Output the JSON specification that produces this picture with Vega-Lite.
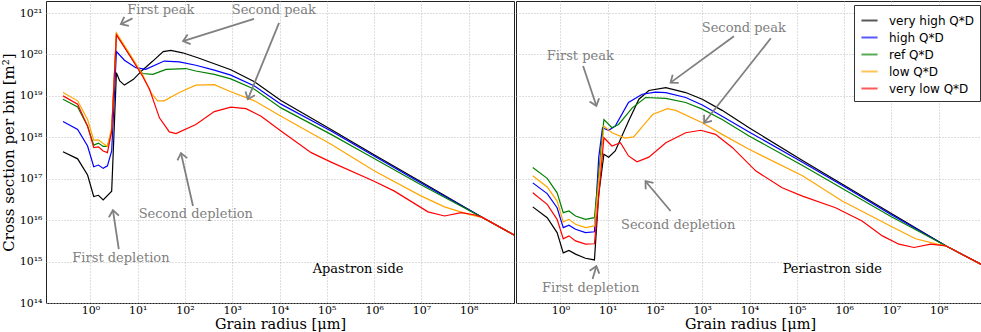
{
  "$schema": "https://vega.github.io/schema/vega-lite/v6.json",
  "padding": 0,
  "spacing": 0,
  "background": "white",
  "config": {
    "font": "DejaVu Serif",
    "view": {"stroke": "#222222", "strokeWidth": 1},
    "axis": {"grid": true, "gridColor": "#b5b5b5", "gridDash": [1, 2], "gridWidth": 0.9, "domain": false, "ticks": false, "labelFont": "DejaVu Serif", "labelFontSize": 11, "labelColor": "#000000", "titleFont": "DejaVu Serif", "titleFontSize": 15, "titleFontWeight": "normal", "titleColor": "#000000"}
  },
  "resolve": {"legend": {"color": "independent"}},
  "datasets": {
    "curvesA": [
      {"m": "very high Q*D", "x": 0.263, "y": 4.467e17}, {"m": "very high Q*D", "x": 0.537, "y": 3.02e17}, {"m": "very high Q*D", "x": 0.871, "y": 1.23e17}, {"m": "very high Q*D", "x": 1.175, "y": 3.715e16}, {"m": "very high Q*D", "x": 1.479, "y": 3.981e16}, {"m": "very high Q*D", "x": 1.862, "y": 3.09e16}, {"m": "very high Q*D", "x": 2.818, "y": 5.012e16}, {"m": "very high Q*D", "x": 3.548, "y": 3.631e19}, {"m": "very high Q*D", "x": 4.169, "y": 2.291e19}, {"m": "very high Q*D", "x": 5.248, "y": 1.82e19}, {"m": "very high Q*D", "x": 8.128, "y": 2.512e19}, {"m": "very high Q*D", "x": 12.59, "y": 4.169e19}, {"m": "very high Q*D", "x": 20.89, "y": 6.918e19}, {"m": "very high Q*D", "x": 34.67, "y": 1.175e20}, {"m": "very high Q*D", "x": 50.12, "y": 1.259e20}, {"m": "very high Q*D", "x": 89.13, "y": 1.096e20}, {"m": "very high Q*D", "x": 186.2, "y": 8.318e19}, {"m": "very high Q*D", "x": 933.3, "y": 4.266e19}, {"m": "very high Q*D", "x": 2951, "y": 2.188e19}, {"m": "very high Q*D", "x": 10720, "y": 7.762e18}, {"m": "very high Q*D", "x": 123000, "y": 1.549e18}, {"m": "very high Q*D", "x": 1e6, "y": 3.802e17}, {"m": "very high Q*D", "x": 1e7, "y": 8.318e16}, {"m": "very high Q*D", "x": 2e8, "y": 1.148e16}, {"m": "very high Q*D", "x": 9.12e8, "y": 4.365e15},
      {"m": "high Q*D", "x": 0.263, "y": 2.399e18}, {"m": "high Q*D", "x": 0.537, "y": 1.549e18}, {"m": "high Q*D", "x": 0.871, "y": 6.166e17}, {"m": "high Q*D", "x": 1.175, "y": 1.95e17}, {"m": "high Q*D", "x": 1.479, "y": 2.138e17}, {"m": "high Q*D", "x": 1.862, "y": 1.778e17}, {"m": "high Q*D", "x": 2.291, "y": 2.042e17}, {"m": "high Q*D", "x": 2.818, "y": 4.677e17}, {"m": "high Q*D", "x": 3.548, "y": 1.175e20}, {"m": "high Q*D", "x": 5.248, "y": 7.244e19}, {"m": "high Q*D", "x": 9.12, "y": 4.786e19}, {"m": "high Q*D", "x": 14.79, "y": 4.365e19}, {"m": "high Q*D", "x": 36.31, "y": 6.918e19}, {"m": "high Q*D", "x": 75.86, "y": 6.607e19}, {"m": "high Q*D", "x": 169.8, "y": 5.495e19}, {"m": "high Q*D", "x": 416.9, "y": 4.169e19}, {"m": "high Q*D", "x": 933.3, "y": 3.162e19}, {"m": "high Q*D", "x": 2951, "y": 1.738e19}, {"m": "high Q*D", "x": 10720, "y": 6.31e18}, {"m": "high Q*D", "x": 123000, "y": 1.413e18}, {"m": "high Q*D", "x": 1e6, "y": 3.548e17}, {"m": "high Q*D", "x": 1e7, "y": 7.762e16}, {"m": "high Q*D", "x": 2e8, "y": 1.148e16}, {"m": "high Q*D", "x": 9.12e8, "y": 4.365e15},
      {"m": "ref Q*D", "x": 0.263, "y": 8.318e18}, {"m": "ref Q*D", "x": 0.537, "y": 5.37e18}, {"m": "ref Q*D", "x": 0.871, "y": 1.862e18}, {"m": "ref Q*D", "x": 1.175, "y": 6.457e17}, {"m": "ref Q*D", "x": 1.479, "y": 7.244e17}, {"m": "ref Q*D", "x": 1.862, "y": 6.026e17}, {"m": "ref Q*D", "x": 2.291, "y": 6.026e17}, {"m": "ref Q*D", "x": 2.818, "y": 1.413e18}, {"m": "ref Q*D", "x": 3.548, "y": 3.09e20}, {"m": "ref Q*D", "x": 10, "y": 4.786e19}, {"m": "ref Q*D", "x": 12.59, "y": 3.467e19}, {"m": "ref Q*D", "x": 20.89, "y": 3.311e19}, {"m": "ref Q*D", "x": 39.81, "y": 4.365e19}, {"m": "ref Q*D", "x": 104.7, "y": 4.571e19}, {"m": "ref Q*D", "x": 169.8, "y": 3.981e19}, {"m": "ref Q*D", "x": 416.9, "y": 3.311e19}, {"m": "ref Q*D", "x": 933.3, "y": 2.57e19}, {"m": "ref Q*D", "x": 2951, "y": 1.445e19}, {"m": "ref Q*D", "x": 10720, "y": 5.129e18}, {"m": "ref Q*D", "x": 123000, "y": 1.175e18}, {"m": "ref Q*D", "x": 1e6, "y": 3.09e17}, {"m": "ref Q*D", "x": 1e7, "y": 7.079e16}, {"m": "ref Q*D", "x": 2e8, "y": 1.148e16}, {"m": "ref Q*D", "x": 9.12e8, "y": 4.365e15},
      {"m": "low Q*D", "x": 0.263, "y": 1.202e19}, {"m": "low Q*D", "x": 0.537, "y": 7.586e18}, {"m": "low Q*D", "x": 0.871, "y": 2.692e18}, {"m": "low Q*D", "x": 1.175, "y": 8.511e17}, {"m": "low Q*D", "x": 1.479, "y": 8.71e17}, {"m": "low Q*D", "x": 1.862, "y": 7.079e17}, {"m": "low Q*D", "x": 2.291, "y": 6.026e17}, {"m": "low Q*D", "x": 2.818, "y": 1.698e18}, {"m": "low Q*D", "x": 3.548, "y": 3.311e20}, {"m": "low Q*D", "x": 7.244, "y": 9.12e19}, {"m": "low Q*D", "x": 12.59, "y": 3.311e19}, {"m": "low Q*D", "x": 19.05, "y": 1.202e19}, {"m": "low Q*D", "x": 26.3, "y": 7.586e18}, {"m": "low Q*D", "x": 36.31, "y": 7.586e18}, {"m": "low Q*D", "x": 75.86, "y": 1.202e19}, {"m": "low Q*D", "x": 169.8, "y": 1.82e19}, {"m": "low Q*D", "x": 416.9, "y": 1.862e19}, {"m": "low Q*D", "x": 933.3, "y": 1.259e19}, {"m": "low Q*D", "x": 2951, "y": 7.586e18}, {"m": "low Q*D", "x": 10720, "y": 3.236e18}, {"m": "low Q*D", "x": 123000, "y": 6.761e17}, {"m": "low Q*D", "x": 1e6, "y": 1.549e17}, {"m": "low Q*D", "x": 1e7, "y": 3.802e16}, {"m": "low Q*D", "x": 3.09e7, "y": 2.089e16}, {"m": "low Q*D", "x": 1e8, "y": 1.38e16}, {"m": "low Q*D", "x": 2e8, "y": 1.148e16}, {"m": "low Q*D", "x": 9.12e8, "y": 4.365e15},
      {"m": "very low Q*D", "x": 0.263, "y": 1e19}, {"m": "very low Q*D", "x": 0.537, "y": 6.31e18}, {"m": "very low Q*D", "x": 0.871, "y": 1.862e18}, {"m": "very low Q*D", "x": 1.175, "y": 5.623e17}, {"m": "very low Q*D", "x": 1.479, "y": 5.888e17}, {"m": "very low Q*D", "x": 1.862, "y": 4.677e17}, {"m": "very low Q*D", "x": 2.291, "y": 4.266e17}, {"m": "very low Q*D", "x": 2.818, "y": 1.413e18}, {"m": "very low Q*D", "x": 3.548, "y": 2.951e20}, {"m": "very low Q*D", "x": 7.244, "y": 8.318e19}, {"m": "very low Q*D", "x": 12.59, "y": 3.02e19}, {"m": "very low Q*D", "x": 17.78, "y": 1.445e19}, {"m": "very low Q*D", "x": 28.84, "y": 2.951e18}, {"m": "very low Q*D", "x": 46.77, "y": 1.349e18}, {"m": "very low Q*D", "x": 64.57, "y": 1.23e18}, {"m": "very low Q*D", "x": 169.8, "y": 2.042e18}, {"m": "very low Q*D", "x": 416.9, "y": 4.169e18}, {"m": "very low Q*D", "x": 933.3, "y": 5.37e18}, {"m": "very low Q*D", "x": 1950, "y": 4.898e18}, {"m": "very low Q*D", "x": 4074, "y": 3.236e18}, {"m": "very low Q*D", "x": 10720, "y": 1.413e18}, {"m": "very low Q*D", "x": 46770, "y": 4.266e17}, {"m": "very low Q*D", "x": 123000, "y": 2.512e17}, {"m": "very low Q*D", "x": 1e6, "y": 8.71e16}, {"m": "very low Q*D", "x": 2.69e6, "y": 5.012e16}, {"m": "very low Q*D", "x": 1.38e7, "y": 1.585e16}, {"m": "very low Q*D", "x": 3.09e7, "y": 1.259e16}, {"m": "very low Q*D", "x": 6.92e7, "y": 1.514e16}, {"m": "very low Q*D", "x": 1.318e8, "y": 1.349e16}, {"m": "very low Q*D", "x": 2e8, "y": 1.148e16}, {"m": "very low Q*D", "x": 9.12e8, "y": 4.365e15}
    ],
    "curvesP": [
      {"m": "very high Q*D", "x": 0.26, "y": 2.089e16}, {"m": "very high Q*D", "x": 0.525, "y": 1.148e16}, {"m": "very high Q*D", "x": 0.851, "y": 5.012e15}, {"m": "very high Q*D", "x": 1.148, "y": 1.622e15}, {"m": "very high Q*D", "x": 1.514, "y": 1.862e15}, {"m": "very high Q*D", "x": 2.089, "y": 1.514e15}, {"m": "very high Q*D", "x": 3.388, "y": 1.202e15}, {"m": "very high Q*D", "x": 5.248, "y": 1.096e15}, {"m": "very high Q*D", "x": 6.457, "y": 4.169e16}, {"m": "very high Q*D", "x": 8.318, "y": 3.89e17}, {"m": "very high Q*D", "x": 10.47, "y": 3.311e17}, {"m": "very high Q*D", "x": 14.45, "y": 4.677e17}, {"m": "very high Q*D", "x": 27.54, "y": 2.455e18}, {"m": "very high Q*D", "x": 45.71, "y": 8.318e18}, {"m": "very high Q*D", "x": 74.13, "y": 1.349e19}, {"m": "very high Q*D", "x": 169.8, "y": 1.585e19}, {"m": "very high Q*D", "x": 446.7, "y": 1.202e19}, {"m": "very high Q*D", "x": 1000, "y": 8.318e18}, {"m": "very high Q*D", "x": 2630, "y": 4.467e18}, {"m": "very high Q*D", "x": 9772, "y": 1.698e18}, {"m": "very high Q*D", "x": 131800, "y": 2.754e17}, {"m": "very high Q*D", "x": 1e6, "y": 6.918e16}, {"m": "very high Q*D", "x": 1e7, "y": 1.445e16}, {"m": "very high Q*D", "x": 1.413e8, "y": 2.399e15}, {"m": "very high Q*D", "x": 8.318e8, "y": 8.318e14},
      {"m": "high Q*D", "x": 0.26, "y": 7.943e16}, {"m": "high Q*D", "x": 0.525, "y": 4.365e16}, {"m": "high Q*D", "x": 0.851, "y": 1.995e16}, {"m": "high Q*D", "x": 1.148, "y": 6.607e15}, {"m": "high Q*D", "x": 1.514, "y": 7.586e15}, {"m": "high Q*D", "x": 2.089, "y": 6.026e15}, {"m": "high Q*D", "x": 3.388, "y": 5.012e15}, {"m": "high Q*D", "x": 5.248, "y": 5.248e15}, {"m": "high Q*D", "x": 6.457, "y": 3.236e17}, {"m": "high Q*D", "x": 7.762, "y": 1.698e18}, {"m": "high Q*D", "x": 10.47, "y": 1.479e18}, {"m": "high Q*D", "x": 14.45, "y": 1.862e18}, {"m": "high Q*D", "x": 27.54, "y": 6.918e18}, {"m": "high Q*D", "x": 53.7, "y": 1.096e19}, {"m": "high Q*D", "x": 102.3, "y": 1.23e19}, {"m": "high Q*D", "x": 169.8, "y": 1.202e19}, {"m": "high Q*D", "x": 446.7, "y": 9.12e18}, {"m": "high Q*D", "x": 1000, "y": 6.026e18}, {"m": "high Q*D", "x": 2630, "y": 3.236e18}, {"m": "high Q*D", "x": 9772, "y": 1.349e18}, {"m": "high Q*D", "x": 131800, "y": 2.512e17}, {"m": "high Q*D", "x": 1e6, "y": 6.457e16}, {"m": "high Q*D", "x": 1e7, "y": 1.349e16}, {"m": "high Q*D", "x": 1.413e8, "y": 2.399e15}, {"m": "high Q*D", "x": 8.318e8, "y": 8.318e14},
      {"m": "ref Q*D", "x": 0.26, "y": 1.862e17}, {"m": "ref Q*D", "x": 0.525, "y": 1.023e17}, {"m": "ref Q*D", "x": 0.851, "y": 4.571e16}, {"m": "ref Q*D", "x": 1.148, "y": 1.514e16}, {"m": "ref Q*D", "x": 1.514, "y": 1.66e16}, {"m": "ref Q*D", "x": 2.089, "y": 1.259e16}, {"m": "ref Q*D", "x": 3.388, "y": 1.047e16}, {"m": "ref Q*D", "x": 5.248, "y": 1.148e16}, {"m": "ref Q*D", "x": 8.318, "y": 2.692e18}, {"m": "ref Q*D", "x": 12.3, "y": 1.698e18}, {"m": "ref Q*D", "x": 16.98, "y": 2.042e18}, {"m": "ref Q*D", "x": 33.11, "y": 5.129e18}, {"m": "ref Q*D", "x": 63.1, "y": 9.12e18}, {"m": "ref Q*D", "x": 169.8, "y": 8.71e18}, {"m": "ref Q*D", "x": 446.7, "y": 6.918e18}, {"m": "ref Q*D", "x": 1000, "y": 4.786e18}, {"m": "ref Q*D", "x": 2630, "y": 2.692e18}, {"m": "ref Q*D", "x": 9772, "y": 1.072e18}, {"m": "ref Q*D", "x": 131800, "y": 2.089e17}, {"m": "ref Q*D", "x": 1e6, "y": 5.495e16}, {"m": "ref Q*D", "x": 1e7, "y": 1.202e16}, {"m": "ref Q*D", "x": 1.413e8, "y": 2.399e15}, {"m": "ref Q*D", "x": 8.318e8, "y": 8.318e14},
      {"m": "low Q*D", "x": 0.26, "y": 1.175e17}, {"m": "low Q*D", "x": 0.525, "y": 6.31e16}, {"m": "low Q*D", "x": 0.851, "y": 2.884e16}, {"m": "low Q*D", "x": 1.148, "y": 9.12e15}, {"m": "low Q*D", "x": 1.514, "y": 1.047e16}, {"m": "low Q*D", "x": 2.089, "y": 7.943e15}, {"m": "low Q*D", "x": 3.388, "y": 6.607e15}, {"m": "low Q*D", "x": 5.248, "y": 7.244e15}, {"m": "low Q*D", "x": 8.318, "y": 1.862e18}, {"m": "low Q*D", "x": 12.3, "y": 1.288e18}, {"m": "low Q*D", "x": 23.44, "y": 9.55e17}, {"m": "low Q*D", "x": 35.48, "y": 1.023e18}, {"m": "low Q*D", "x": 63.1, "y": 2.239e18}, {"m": "low Q*D", "x": 89.13, "y": 3.548e18}, {"m": "low Q*D", "x": 182, "y": 4.898e18}, {"m": "low Q*D", "x": 275.4, "y": 4.467e18}, {"m": "low Q*D", "x": 1000, "y": 2.239e18}, {"m": "low Q*D", "x": 2630, "y": 1.175e18}, {"m": "low Q*D", "x": 9772, "y": 5.129e17}, {"m": "low Q*D", "x": 131800, "y": 1.175e17}, {"m": "low Q*D", "x": 912000, "y": 2.884e16}, {"m": "low Q*D", "x": 9.55e6, "y": 7.244e15}, {"m": "low Q*D", "x": 3.236e7, "y": 3.548e15}, {"m": "low Q*D", "x": 9.333e7, "y": 2.63e15}, {"m": "low Q*D", "x": 1.413e8, "y": 2.399e15}, {"m": "low Q*D", "x": 8.318e8, "y": 8.318e14},
      {"m": "very low Q*D", "x": 0.26, "y": 4.571e16}, {"m": "very low Q*D", "x": 0.525, "y": 2.399e16}, {"m": "very low Q*D", "x": 0.851, "y": 1.047e16}, {"m": "very low Q*D", "x": 1.148, "y": 3.548e15}, {"m": "very low Q*D", "x": 1.514, "y": 4.169e15}, {"m": "very low Q*D", "x": 2.089, "y": 3.162e15}, {"m": "very low Q*D", "x": 3.388, "y": 2.63e15}, {"m": "very low Q*D", "x": 5.248, "y": 2.692e15}, {"m": "very low Q*D", "x": 8.318, "y": 9.772e17}, {"m": "very low Q*D", "x": 12.3, "y": 6.166e17}, {"m": "very low Q*D", "x": 18.62, "y": 7.413e17}, {"m": "very low Q*D", "x": 27.54, "y": 3.548e17}, {"m": "very low Q*D", "x": 41.69, "y": 2.57e17}, {"m": "very low Q*D", "x": 74.13, "y": 3.311e17}, {"m": "very low Q*D", "x": 169.8, "y": 7.413e17}, {"m": "very low Q*D", "x": 446.7, "y": 1.288e18}, {"m": "very low Q*D", "x": 933.3, "y": 1.479e18}, {"m": "very low Q*D", "x": 1905, "y": 1.175e18}, {"m": "very low Q*D", "x": 4365, "y": 5.623e17}, {"m": "very low Q*D", "x": 13490, "y": 1.549e17}, {"m": "very low Q*D", "x": 48980, "y": 6.026e16}, {"m": "very low Q*D", "x": 131800, "y": 3.802e16}, {"m": "very low Q*D", "x": 660700, "y": 1.995e16}, {"m": "very low Q*D", "x": 2.399e6, "y": 9.55e15}, {"m": "very low Q*D", "x": 6.457e6, "y": 4.169e15}, {"m": "very low Q*D", "x": 1.445e7, "y": 2.63e15}, {"m": "very low Q*D", "x": 3.02e7, "y": 2.188e15}, {"m": "very low Q*D", "x": 6.761e7, "y": 2.63e15}, {"m": "very low Q*D", "x": 1.413e8, "y": 2.399e15}, {"m": "very low Q*D", "x": 8.318e8, "y": 8.318e14}
    ],
    "textA": [
      {"t": "First peak", "x": 30.9, "y": 1.175e21, "c": "note"},
      {"t": "Second peak", "x": 7586, "y": 1.175e21, "c": "note"},
      {"t": "First depletion", "x": 4.416, "y": 1.23e15, "c": "note"},
      {"t": "Second depletion", "x": 169.8, "y": 1.413e16, "c": "note"},
      {"t": "Apastron side", "x": 457100, "y": 6.607e14, "c": "side"}
    ],
    "textP": [
      {"t": "First peak", "x": 2.63, "y": 9.12e19, "c": "note"},
      {"t": "Second peak", "x": 7586, "y": 4.467e20, "c": "note"},
      {"t": "First depletion", "x": 4.365, "y": 2.344e14, "c": "note"},
      {"t": "Second depletion", "x": 309, "y": 7.586e15, "c": "note"},
      {"t": "Periastron side", "x": 562300, "y": 6.607e14, "c": "side"}
    ],
    "arrowsA": [
      {"id": 1, "x": 7.762, "y": 7.413e20}, {"id": 1, "x": 4.416, "y": 5.37e20},
      {"id": 2, "x": 2884, "y": 7.244e20}, {"id": 2, "x": 91.2, "y": 2.089e20},
      {"id": 3, "x": 9772, "y": 5.754e20}, {"id": 3, "x": 2138, "y": 8.318e18},
      {"id": 4, "x": 3.981, "y": 1.995e15}, {"id": 4, "x": 2.992, "y": 1.738e16},
      {"id": 5, "x": 147.9, "y": 2.188e16}, {"id": 5, "x": 82.22, "y": 4.169e17}
    ],
    "headsA": [
      {"x": 4.416, "y": 5.37e20, "heading": 152.9},
      {"x": 91.2, "y": 2.089e20, "heading": 162.8},
      {"x": 2138, "y": 8.318e18, "heading": 112.2},
      {"x": 2.992, "y": 1.738e16, "heading": 261.3},
      {"x": 82.22, "y": 4.169e17, "heading": 257.2}
    ],
    "arrowsP": [
      {"id": 6, "x": 3.02, "y": 5.248e19}, {"id": 6, "x": 5.754, "y": 5.754e18},
      {"id": 7, "x": 4677, "y": 2.754e20}, {"id": 7, "x": 213.8, "y": 2.089e19},
      {"id": 8, "x": 28180, "y": 2.455e20}, {"id": 8, "x": 1096, "y": 2.239e18},
      {"id": 9, "x": 4.786, "y": 3.802e14}, {"id": 9, "x": 5.754, "y": 7.762e14},
      {"id": 10, "x": 213.8, "y": 1.66e16}, {"id": 10, "x": 63.1, "y": 8.71e16}
    ],
    "headsP": [
      {"x": 5.754, "y": 5.754e18, "heading": 71.6},
      {"x": 213.8, "y": 2.089e19, "heading": 143.6},
      {"x": 1096, "y": 2.239e18, "heading": 128.3},
      {"x": 5.754, "y": 7.762e14, "heading": 287.1},
      {"x": 63.1, "y": 8.71e16, "heading": 230.2}
    ]
  },
  "hconcat": [
    {
      "width": 468,
      "height": 302,
      "encoding": {
        "x": {"field": "x", "type": "quantitative", "scale": {"type": "log", "domain": [0.115, 9.1e8], "nice": false}, "axis": {"title": "Grain radius [μm]", "values": [1, 10, 100, 1000, 10000, 100000, 1000000, 10000000, 100000000], "labelExpr": "'10' + ['⁰','¹','²','³','⁴','⁵','⁶','⁷','⁸'][round(log(datum.value)/LN10)]", "labelPadding": 1, "titleBaseline": "alphabetic", "titleY": 25.5, "titleFontSize": 14.5}},
        "y": {"field": "y", "type": "quantitative", "scale": {"type": "log", "domain": [1e14, 1.95e21], "nice": false}, "axis": {"title": "Cross section per bin [m²]", "values": [1e14, 1e15, 1e16, 1e17, 1e18, 1e19, 1e20, 1e21], "labelExpr": "'10' + ['¹⁴','¹⁵','¹⁶','¹⁷','¹⁸','¹⁹','²⁰','²¹'][round(log(datum.value)/LN10) - 14]", "labelPadding": 4, "titlePadding": 3}}
      },
      "layer": [
        {"data": {"name": "curvesA"}, "mark": {"type": "line", "strokeWidth": 1.2, "clip": true}, "encoding": {"color": {"field": "m", "type": "nominal", "scale": {"domain": ["very high Q*D", "high Q*D", "ref Q*D", "low Q*D", "very low Q*D"], "range": ["#000000", "#0000ff", "#008000", "#ffa500", "#ff0000"]}, "legend": null}}},
        {"data": {"name": "arrowsA"}, "mark": {"type": "line", "color": "#808080", "strokeWidth": 1.8}, "encoding": {"detail": {"field": "id", "type": "nominal"}}},
        {"data": {"name": "headsA"}, "mark": {"type": "point", "shape": "M-1,-0.8L0,0L-1,0.8", "filled": false, "stroke": "#808080", "strokeWidth": 1.8, "size": 160, "opacity": 1}, "encoding": {"angle": {"field": "heading", "type": "quantitative", "scale": null}}},
        {"data": {"name": "textA"}, "transform": [{"filter": "datum.c == 'note'"}], "mark": {"type": "text", "font": "DejaVu Serif", "fontSize": 13, "align": "center", "baseline": "middle", "color": "#808080"}, "encoding": {"text": {"field": "t"}}},
        {"data": {"name": "textA"}, "transform": [{"filter": "datum.c == 'side'"}], "mark": {"type": "text", "font": "DejaVu Serif", "fontSize": 13, "align": "center", "baseline": "middle", "color": "#000000"}, "encoding": {"text": {"field": "t"}}}
      ]
    },
    {
      "width": 468,
      "height": 302,
      "encoding": {
        "x": {"field": "x", "type": "quantitative", "scale": {"type": "log", "domain": [0.115, 9.1e8], "nice": false}, "axis": {"title": "Grain radius [μm]", "values": [1, 10, 100, 1000, 10000, 100000, 1000000, 10000000, 100000000], "labelExpr": "'10' + ['⁰','¹','²','³','⁴','⁵','⁶','⁷','⁸'][round(log(datum.value)/LN10)]", "labelPadding": 1, "titleBaseline": "alphabetic", "titleY": 25.5, "titleFontSize": 14.5}},
        "y": {"field": "y", "type": "quantitative", "scale": {"type": "log", "domain": [1e14, 1.95e21], "nice": false}, "axis": {"title": null, "labels": false, "values": [1e14, 1e15, 1e16, 1e17, 1e18, 1e19, 1e20, 1e21]}}
      },
      "layer": [
        {"data": {"name": "curvesP"}, "mark": {"type": "line", "strokeWidth": 1.2, "clip": true}, "encoding": {"color": {"field": "m", "type": "nominal", "scale": {"domain": ["very high Q*D", "high Q*D", "ref Q*D", "low Q*D", "very low Q*D"], "range": ["#000000", "#0000ff", "#008000", "#ffa500", "#ff0000"]}, "legend": {"orient": "top-right", "offset": 4, "title": null, "strokeColor": "#333333", "fillColor": "white", "padding": 6, "labelFont": "DejaVu Sans", "labelFontSize": 12, "labelColor": "#000000", "symbolType": "stroke", "symbolSize": 260, "symbolStrokeWidth": 2, "symbolOpacity": 0.65, "rowPadding": 1, "labelOffset": 10, "cornerRadius": 0}}}},
        {"data": {"name": "arrowsP"}, "mark": {"type": "line", "color": "#808080", "strokeWidth": 1.8}, "encoding": {"detail": {"field": "id", "type": "nominal"}}},
        {"data": {"name": "headsP"}, "mark": {"type": "point", "shape": "M-1,-0.8L0,0L-1,0.8", "filled": false, "stroke": "#808080", "strokeWidth": 1.8, "size": 160, "opacity": 1}, "encoding": {"angle": {"field": "heading", "type": "quantitative", "scale": null}}},
        {"data": {"name": "textP"}, "transform": [{"filter": "datum.c == 'note'"}], "mark": {"type": "text", "font": "DejaVu Serif", "fontSize": 13, "align": "center", "baseline": "middle", "color": "#808080"}, "encoding": {"text": {"field": "t"}}},
        {"data": {"name": "textP"}, "transform": [{"filter": "datum.c == 'side'"}], "mark": {"type": "text", "font": "DejaVu Serif", "fontSize": 13, "align": "center", "baseline": "middle", "color": "#000000"}, "encoding": {"text": {"field": "t"}}}
      ]
    }
  ]
}
